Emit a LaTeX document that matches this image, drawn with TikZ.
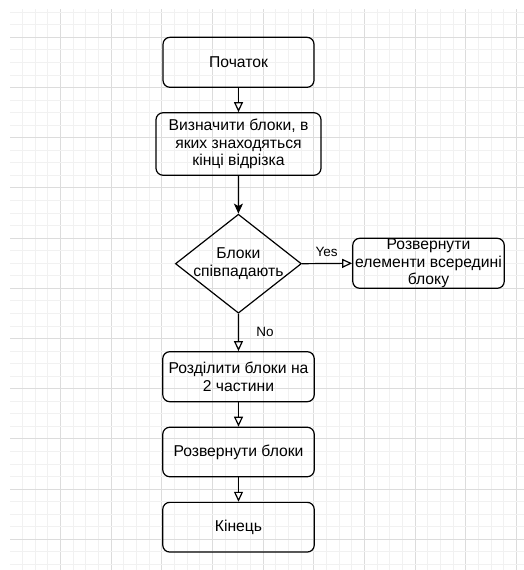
\documentclass[tikz,border=0pt]{standalone}
\usepackage{fontspec}
\setmainfont{Liberation Sans}
\usetikzlibrary{shapes.geometric,arrows.meta}
\definecolor{gridminor}{HTML}{F1F1F1}
\definecolor{gridmajor}{HTML}{DCDCDC}
\tikzset{
  stepbox/.style={draw=black, line width=1.2pt, rounded corners=7pt, align=center,
    inner sep=0pt, font=\fontsize{15.7}{17.5}\selectfont},
  decision/.style={draw=black, line width=1.2pt, shape=diamond, inner sep=0pt},
  boxtext/.style={align=center, inner sep=0pt, font=\fontsize{15.7}{17.5}\selectfont},
  openarrow/.style={draw=black, line width=1.2pt, -{Triangle[open, length=10pt, width=9pt]}},
  fillarrow/.style={draw=black, line width=1.2pt, -{Stealth[length=10pt, width=9pt, inset=2.5pt]}},
  edgelabel/.style={font=\fontsize{13.5}{15}\selectfont, inner sep=0pt}
}
\begin{document}
\begin{tikzpicture}[x=1pt,y=-1pt]
\useasboundingbox (0,0) rectangle (524,570);
\fill[white] (0,0) rectangle (524,570);
% grid
\foreach \k in {1,...,40} {
  \pgfmathsetmacro{\gx}{9.6+\k*12.675}
  \pgfmathtruncatemacro{\m}{mod(\k,4)}
  \ifnum\m=0
    \draw[gridmajor, line width=0.9pt] (\gx,9) -- (\gx,570);
  \else
    \draw[gridminor, line width=0.9pt] (\gx,9) -- (\gx,570);
  \fi
}
\foreach \k in {0,...,44} {
  \pgfmathsetmacro{\gy}{12.2+\k*12.55}
  \pgfmathtruncatemacro{\m}{mod(\k,4)}
  \ifnum\m=2
    \draw[gridmajor, line width=0.9pt] (10,\gy) -- (524,\gy);
  \else
    \draw[gridminor, line width=0.9pt] (10,\gy) -- (524,\gy);
  \fi
}
% nodes
\node[stepbox, minimum width=151pt, minimum height=50pt] (start) at (238.5,62.3) {Початок};
\node[stepbox, minimum width=165pt, minimum height=62.5pt] (find) at (238.5,144) {Визначити блоки, в\\яких знаходяться\\кінці відрізка};
\node[decision, minimum width=126pt, minimum height=99pt] (same) at (238.4,263.7) {};
\node[boxtext] (sametext) at (same.center) {Блоки\\співпадають};
\node[stepbox, minimum width=151.5pt, minimum height=50pt] (inner) at (428.5,263.3) {Розвернути\\елементи всередині\\блоку};
\node[stepbox, minimum width=151.5pt, minimum height=50pt] (split) at (238.5,376.7) {Розділити блоки на\\2 частини};
\node[stepbox, minimum width=151.5pt, minimum height=49.5pt] (rot) at (238.5,452) {Розвернути блоки};
\node[stepbox, minimum width=151.5pt, minimum height=49.7pt] (finish) at (238.5,527.2) {Кінець};
% connectors
\draw[openarrow] (start) -- (find);
\draw[fillarrow] (find) -- (same.north);
\draw[openarrow] (same.east) -- (inner.west);
\draw[openarrow] (same.south) -- (split.north);
\draw[openarrow] (split) -- (rot);
\draw[openarrow] (rot) -- (finish);
% labels
\node[edgelabel] (yes) at (326.7,251.7) {Yes};
\node[edgelabel] (no) at (265,332.3) {No};
\end{tikzpicture}
\end{document}
